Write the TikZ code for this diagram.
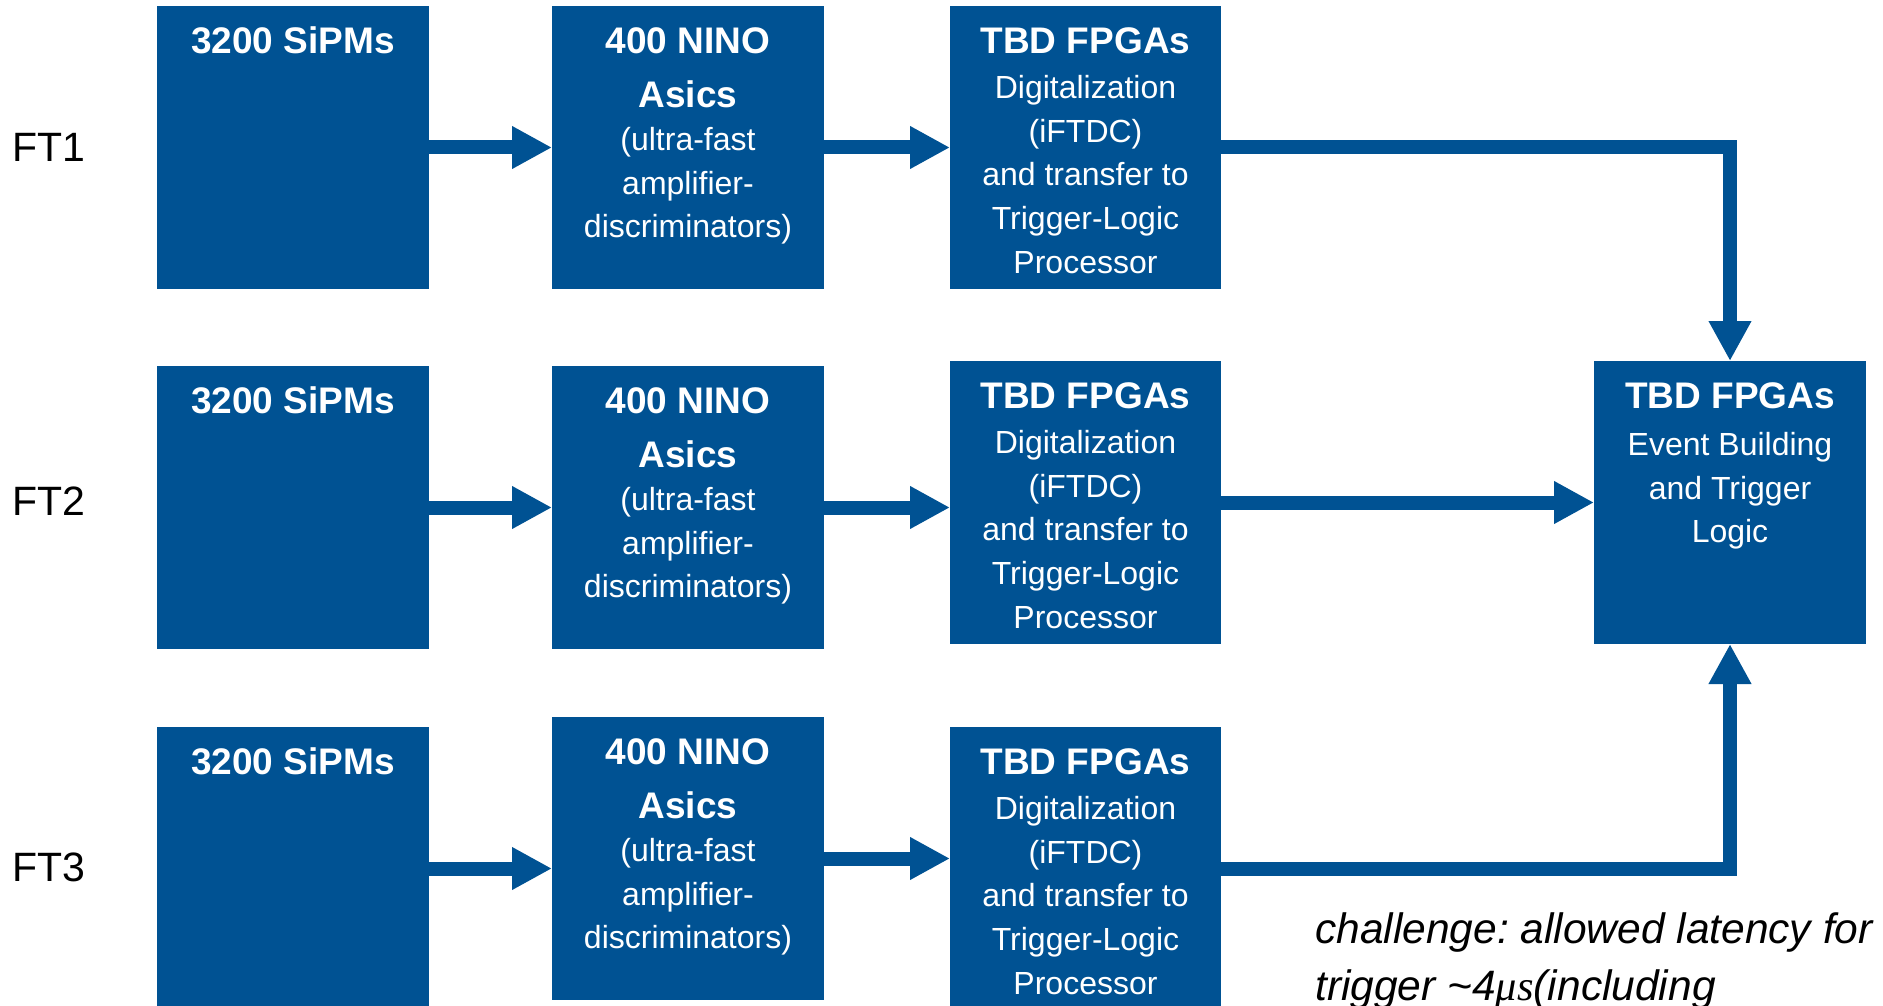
\documentclass[tikz,border=0pt]{standalone}
\usepackage{fontspec}
\setmainfont{Liberation Sans}
\newfontfamily\serifmu{Liberation Serif}
\usetikzlibrary{arrows.meta}
\definecolor{boxblue}{RGB}{0,82,147}
\frenchspacing
\tikzset{
 box/.style={fill=boxblue, draw=none, minimum width=272pt, minimum height=283pt, anchor=north west, inner sep=0pt, outer sep=0pt},
 ttl/.style={anchor=north, inner sep=0pt, align=center, text=white, font=\fontsize{37}{54}\selectfont\bfseries},
 body/.style={anchor=north, inner sep=0pt, align=center, text=white, font=\fontsize{32}{43.8}\selectfont},
 flow/.style={draw=boxblue, line width=14pt, -{Triangle[length=40pt,width=40pt]}},
 rowlbl/.style={anchor=base west, inner sep=0pt, font=\fontsize{41}{48}\selectfont},
}
\newcommand\hs{\rule{0pt}{30pt}}
\begin{document}
\begin{tikzpicture}[x=1pt,y=-1pt]
\useasboundingbox (0,0) rectangle (1883,1006);
% boxes
\node[box] (s1) at (157,6) {};
\node[box] (n1) at (552,6) {};
\node[box, minimum width=271pt] (f1) at (950,6) {};
\node[box] (s2) at (157,366) {};
\node[box] (n2) at (552,366) {};
\node[box, minimum width=271pt] (f2) at (950,361) {};
\node[box] (s3) at (157,727) {};
\node[box] (n3) at (552,717) {};
\node[box, minimum width=271pt] (f3) at (950,727) {};
\node[box] (r) at (1594,361) {};
% texts
\foreach \b in {s1,s2,s3}{
 \node[ttl] (\b t) at ([yshift=-17pt]\b.north) {\hs3200 SiPMs};
}
\foreach \b in {n1,n2,n3}{
 \node[ttl] (\b t) at ([yshift=-17pt]\b.north) {\hs400 NINO\\Asics};
 \node[body] (\b b) at ([yshift=-114pt]\b.north) {\hs(ultra-fast\\amplifier-\\discriminators)};
}
\foreach \b in {f1,f2,f3}{
 \node[ttl] (\b t) at ([yshift=-17pt]\b.north) {\hs TBD FPGAs};
 \node[body] (\b b) at ([yshift=-62pt]\b.north) {\hs Digitalization\\(iFTDC)\\and transfer to\\Trigger-Logic\\Processor};
}
\node[ttl] (rt) at ([yshift=-17pt]r.north) {\hs TBD FPGAs};
\node[body] (rb) at ([yshift=-64pt]r.north) {\hs Event Building\\and Trigger\\Logic};
% connectors
\draw[flow] (s1.east) -- (n1.west);
\draw[flow] (n1.east) -- (f1.west);
\draw[flow] (f1.east) -| (r.north);
\draw[flow] (s2.east) -- (n2.west);
\draw[flow] (n2.east) -- (n2.east -| f2.west);
\draw[flow] (f2.east) -- (r.west);
\draw[flow] (s3.east) -- (s3.east -| n3.west);
\draw[flow] (n3.east) -- (n3.east -| f3.west);
\draw[flow] (f3.east) -| (r.south);
% row labels
\node[rowlbl] (ft1) at (12,161) {FT1};
\node[rowlbl] (ft2) at (12,515.5) {FT2};
\node[rowlbl] (ft3) at (12,881.5) {FT3};
% note
\node[anchor=north west, inner sep=0pt, align=left, font=\fontsize{42.5}{57}\selectfont\itshape] (note) at (1315,911) {\rule{0pt}{32pt}challenge: allowed latency for\\trigger {\char"7E}4{\serifmu μs}(including};
\end{tikzpicture}
\end{document}
